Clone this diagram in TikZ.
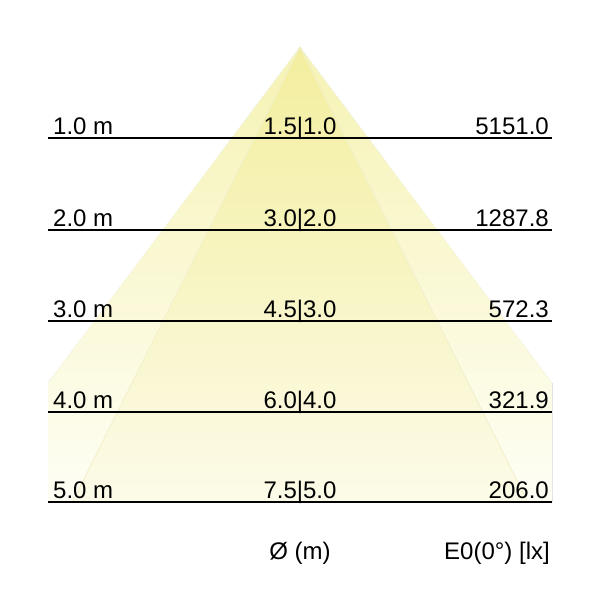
\documentclass[tikz,border=0pt]{standalone}
\usepackage{fontspec}
\setmainfont{Liberation Sans}
\definecolor{wideTop}{HTML}{F6F3B4}
\definecolor{wideBot}{HTML}{FEFEF5}
\definecolor{narTop}{HTML}{F3EE9E}
\definecolor{narBot}{HTML}{FCFBE8}
\definecolor{seam}{HTML}{F9F7D2}
\definecolor{wseam}{HTML}{FBFAE2}
\tikzset{
  rowline/.style={line width=1.4pt, black},
  lbl/.style={font=\fontsize{24}{26}\selectfont, inner sep=0pt},
  seamline/.style={seam, line width=0.7pt},
  wseamline/.style={wseam, line width=0.8pt},
}
\begin{document}
\begin{tikzpicture}[x=1pt,y=-1pt]
\useasboundingbox (0,0) rectangle (600,600);
\coordinate (apex) at (300,47);
\coordinate (nl) at (72.5,502);
\coordinate (nr) at (527.5,502);
\coordinate (wl) at (-41,502);
\coordinate (wr) at (641,502);
\begin{scope}
  \clip (48,40) rectangle (552,502);
  \fill[top color=wideTop, bottom color=wideBot] (apex) -- (wr) -- (wl) -- cycle;
  \draw[wseamline] (wl) -- (apex) -- (wr);
  \fill[top color=narTop, bottom color=narBot] (apex) -- (nr) -- (nl) -- cycle;
  \draw[seamline] (nl) -- (apex) -- (nr);
\end{scope}
\foreach \i/\y/\d/\c/\e in {1/138/1.0/1.5|1.0/5151.0, 2/230/2.0/3.0|2.0/1287.8, 3/321/3.0/4.5|3.0/572.3, 4/412/4.0/6.0|4.0/321.9, 5/502/5.0/7.5|5.0/206.0}{
  \coordinate (L\i) at (48,\y);
  \coordinate (R\i) at (552,\y);
  \draw[rowline] (L\i) -- (R\i);
  \node[lbl, anchor=base west] (d\i) at (53,\y-4) {\d\ m};
  \node[lbl, anchor=base] (c\i) at (300,\y-4) {\c};
  \node[lbl, anchor=base east] (e\i) at (549,\y-4) {\e};
}
\node[lbl, anchor=base] (dia) at (300,559) {Ø (m)};
\node[lbl, anchor=base east] (eo) at (550,559) {E0(0°) [lx]};
\end{tikzpicture}
\end{document}
